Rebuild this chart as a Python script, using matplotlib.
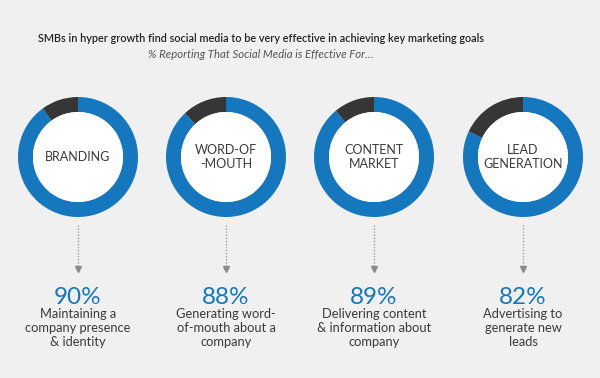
import matplotlib
matplotlib.use("Agg")
import matplotlib.pyplot as plt
from matplotlib.patches import Circle

# ---- data ----
categories = ["BRANDING", "WORD-OF\n-MOUTH", "CONTENT\nMARKET", "LEAD\nGENERATION"]
effective_pct = [90, 88, 89, 82]
pct_labels = ["90%", "88%", "89%", "82%"]
descriptions = [
    "Maintaining a\ncompany presence\n& identity",
    "Generating word-\nof-mouth about a\ncompany",
    "Delivering content\n& information about\ncompany",
    "Advertising to\ngenerate new\nleads",
]
title = "SMBs in hyper growth find social media to be very effective in achieving key marketing goals"
subtitle = "% Reporting That Social Media is Effective For\u2026"

# ---- style ----
BG = "#f0f0f0"
BLUE = "#1577bd"
DARK = "#363636"
TEXT = "#3a3a3a"
FONT = ["Lato", "DejaVu Sans"]

W, H = 600, 378
fig = plt.figure(figsize=(6, 3.78), dpi=100, facecolor=BG)
ax = fig.add_axes([0, 0, 1, 1])
ax.set_facecolor(BG)

centers_x = [78, 226, 374, 523]
cy = H - 157
R_out = 60
ring = 15

for i, (cat, pct) in enumerate(zip(categories, effective_pct)):
    cx = centers_x[i]
    ax.pie([pct, 100 - pct], colors=[BLUE, DARK], startangle=90, counterclock=False,
           center=(cx, cy), radius=R_out,
           wedgeprops=dict(width=ring, linewidth=0))
    ax.add_patch(Circle((cx, cy), R_out - ring, facecolor="white", edgecolor="none", zorder=3))
    ax.text(cx, cy, cat, ha="center", va="center", fontsize=9.0, color=TEXT,
            family=FONT, linespacing=1.25, zorder=4)
    # dotted arrow
    ax.plot([cx, cx], [H - 225, H - 268], color="#a0a0a0", lw=1, ls=(0, (1, 1.2)), zorder=2)
    ax.plot([cx], [H - 269], marker="v", color="#8c8c8c", markersize=5, zorder=2)
    ax.text(cx, H - 297, pct_labels[i], ha="center", va="center", fontsize=17.5,
            color=BLUE, family=FONT)
    ax.text(cx, H - 308, descriptions[i], ha="center", va="top", fontsize=9.3,
            color=TEXT, family=FONT, linespacing=1.22)

ax.text(261, H - 38, title, ha="center", va="center", fontsize=7.85, color="#222222",
        family=FONT, fontweight="semibold")
ax.text(261, H - 55, subtitle, ha="center", va="center", fontsize=8.2, color="#555555",
        family=FONT, style="italic")

ax.set_xlim(0, W)
ax.set_ylim(0, H)
ax.set_aspect("auto")
ax.axis("off")

fig.savefig("out.png", dpi=100, facecolor=BG)
